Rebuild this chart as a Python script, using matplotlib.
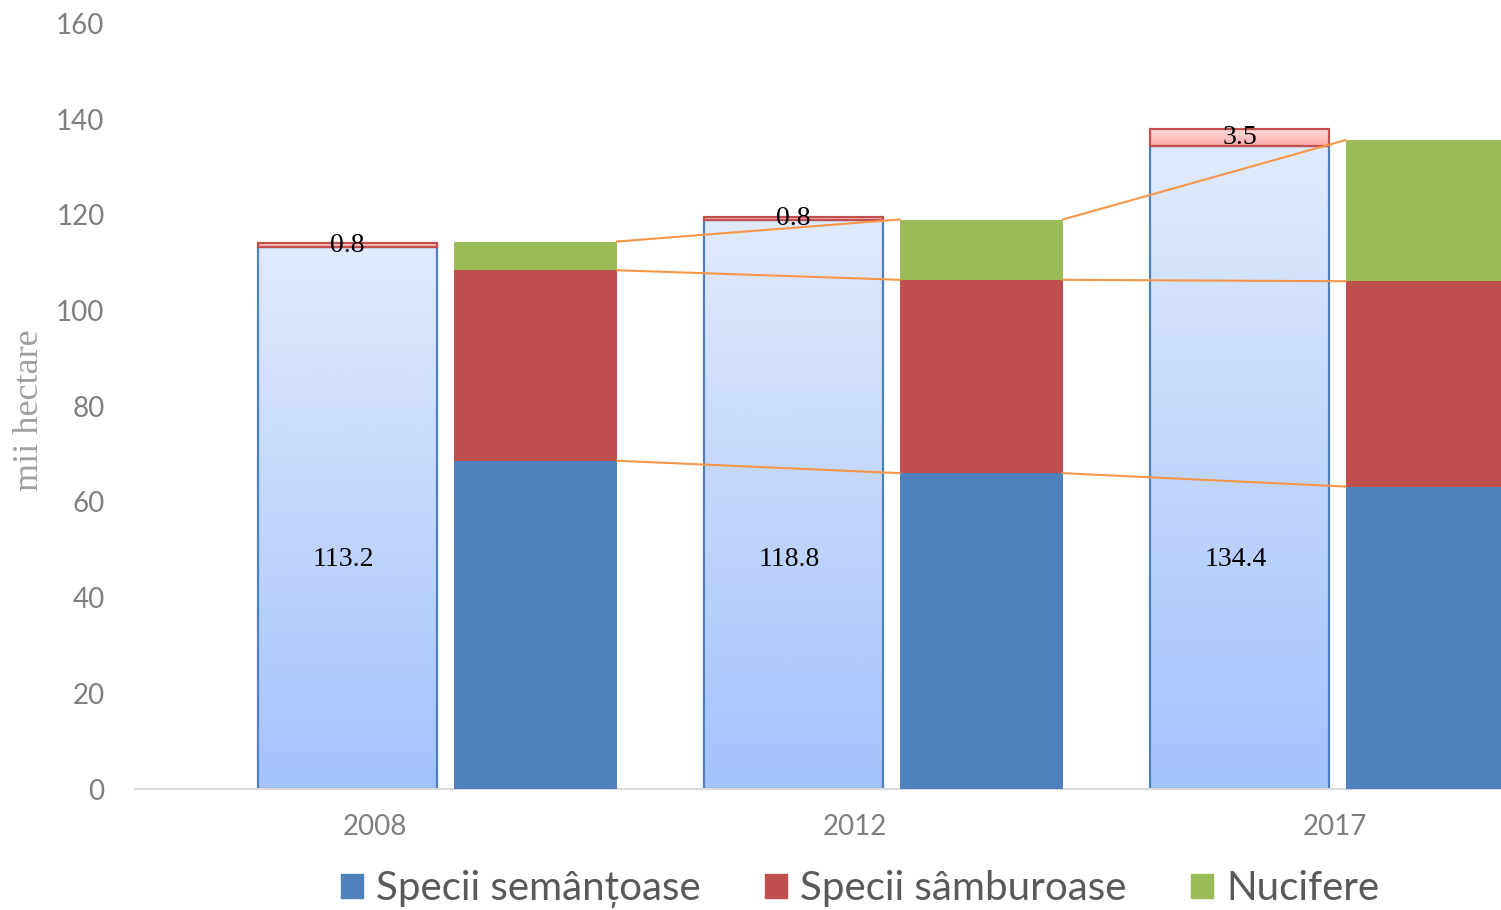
import numpy as np
import matplotlib
matplotlib.use('Agg')
import matplotlib.pyplot as plt
from matplotlib.patches import Rectangle, Patch
from matplotlib.colors import LinearSegmentedColormap

# %% data
years = ['2008', '2012', '2017']
total = [113.2, 118.8, 134.4]          # left bars, labelled
extra = [0.8, 0.8, 3.5]                # small red cap on left bars
seminte = [68.6, 66.0, 63.2]           # Specii semantoase
samburi = [39.8, 40.4, 42.9]           # Specii samburoase
nucifere = [6.0, 12.6, 29.5]           # Nucifere
series_names = ['Specii semânțoase', 'Specii sâmburoase', 'Nucifere']

# %% style
c_blue, c_red, c_green = '#4f81bd', '#c0504d', '#9bbb59'
c_line = '#f79646'
grey_txt = '#7f7f7f'
sans = ['Lato', 'DejaVu Sans']
serif = ['Liberation Serif', 'DejaVu Serif']

fig = plt.figure(figsize=(15.01, 9.10), dpi=100)
ax = fig.add_axes([135/1501, (910-789)/910, 1-135/1501, (789-23.3)/910])

idx = np.arange(len(years))
step = 0.929
left_x = idx*step - 0.057
right_x = idx*step + 0.334
w_left, w_right = 0.373, 0.34

blue_grad = LinearSegmentedColormap.from_list('bg', ['#a3c3fc', '#e0eafc'])
pink_grad = LinearSegmentedColormap.from_list('pg', ['#ffa9a9', '#ffdcdc'])
grad = np.linspace(0, 1, 256).reshape(-1, 1)

def grad_bar(x, y0, h, w, cmap, edge, z):
    ax.imshow(grad, extent=[x-w/2, x+w/2, y0, y0+h], origin='lower',
              cmap=cmap, aspect='auto', zorder=z, interpolation='bilinear')
    ax.add_patch(Rectangle((x-w/2, y0), w, h, fill=False, ec=edge, lw=1.6, zorder=z+0.1))

for i in idx:
    grad_bar(left_x[i], 0, total[i], w_left, blue_grad, c_blue, 2)
    grad_bar(left_x[i], total[i], extra[i], w_left, pink_grad, c_red, 2.2)
    ax.text(left_x[i]-0.008, 48, '{:.1f}'.format(total[i]), ha='center', va='center',
            fontsize=20, family=serif, color='black', zorder=5)
    ax.text(left_x[i], total[i]+extra[i]/2, '{:.1f}'.format(extra[i]), ha='center',
            va='center', fontsize=20, family=serif, color='black', zorder=5)

# stacked right bars
bottoms = np.zeros(len(years))
tops = []
for vals, col in zip([seminte, samburi, nucifere], [c_blue, c_red, c_green]):
    ax.bar(right_x, vals, w_right, bottom=bottoms, color=col, zorder=3)
    bottoms = bottoms + np.array(vals)
    tops.append(bottoms.copy())

# series lines
for t in tops:
    for i in range(len(years)-1):
        ax.plot([right_x[i]+w_right/2, right_x[i+1]-w_right/2], [t[i], t[i+1]],
                color=c_line, lw=1.5, zorder=4)

ax.set_xlim(-0.5, (1501-375)/480)
ax.set_ylim(0, 160)
ax.set_yticks(np.arange(0, 161, 20))
ax.set_xticks(idx)
ax.set_xticklabels(years)
for s in ['left', 'right', 'top']:
    ax.spines[s].set_visible(False)
ax.spines['bottom'].set_color('#d9d9d9')
ax.spines['bottom'].set_linewidth(1.5)
ax.tick_params(length=0, labelcolor=grey_txt, labelsize=20)
ax.tick_params(axis='y', pad=22)
ax.tick_params(axis='x', pad=18)
for lab in ax.get_xticklabels() + ax.get_yticklabels():
    lab.set_family(sans)

fig.text(30/1501, 1-410/910, 'mii hectare', rotation=90, ha='center', va='center',
         fontsize=26, family=serif, color='#a0a0a0')

handles = [Patch(color=c) for c in [c_blue, c_red, c_green]]
fig.legend(handles, series_names, loc='center', bbox_to_anchor=(860/1501, 1-889/910),
           ncol=3, frameon=False, handlelength=0.55, handleheight=0.55, handletextpad=0.32,
           columnspacing=1.6, prop={'family': sans, 'size': 29}, labelcolor='#595959')

fig.savefig('out.png', dpi=100)
